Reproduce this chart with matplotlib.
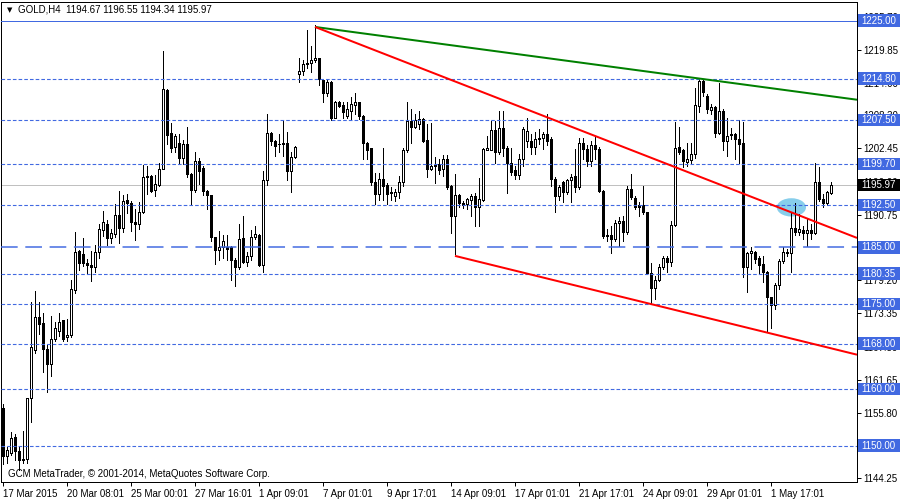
import matplotlib
matplotlib.use('Agg')
import matplotlib.pyplot as plt
from matplotlib.patches import Ellipse, Rectangle
from matplotlib.transforms import blended_transform_factory
import numpy as np

plt.rcParams['font.family'] = ['Liberation Sans', 'DejaVu Sans']
plt.rcParams['lines.scale_dashes'] = False

# ---------------- data ----------------
symbol = "GOLD,H4"
last_ohlc = [1194.67, 1196.55, 1194.34, 1195.97]

opens = [
    1156.7, 1148.1, 1148.8, 1151.5, 1149.1, 1147.7, 1147.7, 1158.5, 1166.9, 1172.8,
    1171.6, 1167.1, 1164.4, 1168.9, 1170.2, 1172.1, 1169.2, 1169.5, 1177.5, 1184.4,
    1183.9, 1182.3, 1181.95, 1181.5, 1184.1, 1188.1, 1189.2, 1186.7, 1187.4, 1190.8,
    1188.5, 1193.3, 1192.8, 1189.5, 1189.2, 1191.2, 1197.4, 1197.6, 1195.1, 1196.0,
    1198.9, 1212.8, 1205.1, 1202.7, 1203.5, 1200.7, 1203.2, 1197.9, 1195.2, 1200.3,
    1199.0, 1194.9, 1194.2, 1186.8, 1184.6, 1185.0, 1185.1, 1185.0, 1182.8, 1181.5,
    1186.6, 1182.5, 1183.4, 1186.9, 1187.2, 1181.9, 1196.9, 1205.1, 1203.7, 1203.2,
    1203.2, 1203.5, 1198.4, 1200.9, 1215.6, 1216.2, 1217.3, 1217.5, 1218.0, 1218.4,
    1214.5, 1212.2, 1214.1, 1207.9, 1210.6, 1210.1, 1208.2, 1209.1, 1210.2, 1210.6,
    1208.1, 1203.4, 1202.5, 1196.5, 1194.4, 1197.1, 1196.0, 1194.7, 1194.0, 1194.7,
    1196.6, 1202.2, 1207.3, 1206.2, 1206.8, 1207.6, 1203.9, 1198.9, 1199.5, 1199.7,
    1198.9, 1200.6, 1195.8, 1190.6, 1194.2, 1192.9, 1192.6, 1193.4, 1194.1, 1192.2,
    1193.4, 1202.2, 1202.2, 1205.7, 1201.8, 1206.0, 1202.6, 1199.9, 1198.7, 1197.7,
    1200.6, 1203.7, 1203.7, 1202.7, 1204.1, 1204.3, 1205.0, 1204.1, 1197.1, 1194.0,
    1196.5, 1194.7, 1196.9, 1197.6, 1195.6, 1203.4, 1202.3, 1200.3, 1203.1, 1202.4,
    1194.9, 1187.1, 1187.2, 1186.5, 1189.3, 1189.6, 1187.7, 1195.3, 1193.7, 1192.5,
    1192.4, 1191.2, 1180.5, 1177.8, 1179.3, 1181.5, 1183.1, 1182.5, 1189.0, 1202.7,
    1202.1, 1200.1, 1200.5, 1201.4, 1210.0, 1214.4, 1211.8, 1209.3, 1209.7, 1205.2,
    1209.1, 1203.8, 1204.8, 1205.0, 1204.2, 1203.4, 1181.5, 1184.0, 1184.1, 1183.1,
    1182.1, 1180.6, 1176.2, 1174.8, 1178.3, 1182.6, 1184.0, 1184.0, 1188.5, 1187.8,
    1188.1, 1187.6, 1188.1, 1187.5, 1196.5, 1193.5, 1192.8, 1194.67,
]
highs = [
    1157.4, 1149.7, 1152.4, 1152.0, 1150.0, 1152.6, 1158.5, 1175.4, 1177.3, 1175.4,
    1173.4, 1167.7, 1172.9, 1171.8, 1173.5, 1172.1, 1172.4, 1179.2, 1187.8, 1184.5,
    1186.7, 1183.0, 1184.4, 1185.5, 1189.1, 1191.4, 1189.9, 1188.2, 1192.6, 1194.9,
    1194.3, 1194.5, 1193.2, 1191.7, 1193.0, 1199.5, 1199.4, 1197.7, 1197.7, 1199.9,
    1219.6, 1212.9, 1206.9, 1205.0, 1205.0, 1204.0, 1206.2, 1198.1, 1201.9, 1200.7,
    1199.3, 1195.1, 1194.2, 1186.9, 1187.9, 1187.1, 1187.1, 1185.3, 1183.1, 1189.1,
    1190.6, 1184.2, 1188.1, 1188.8, 1187.3, 1198.4, 1208.5, 1205.3, 1204.0, 1205.0,
    1207.4, 1205.3, 1201.8, 1202.9, 1218.5, 1218.1, 1223.4, 1220.5, 1224.2, 1218.5,
    1214.8, 1214.6, 1214.4, 1210.9, 1210.9, 1210.7, 1210.7, 1211.6, 1212.2, 1210.7,
    1208.3, 1203.6, 1202.6, 1198.1, 1198.1, 1202.6, 1196.3, 1195.6, 1195.3, 1197.6,
    1202.5, 1210.7, 1209.5, 1208.5, 1209.1, 1207.8, 1206.8, 1206.9, 1200.9, 1200.6,
    1201.3, 1201.3, 1196.0, 1197.9, 1194.4, 1193.2, 1193.8, 1194.4, 1194.6, 1197.3,
    1202.6, 1204.7, 1207.3, 1207.3, 1209.0, 1209.0, 1202.9, 1202.6, 1199.4, 1201.5,
    1206.2, 1207.8, 1205.0, 1205.3, 1205.9, 1205.3, 1208.6, 1204.4, 1197.4, 1196.0,
    1196.8, 1197.1, 1198.0, 1202.4, 1204.3, 1204.3, 1203.0, 1203.8, 1204.7, 1202.7,
    1195.2, 1188.3, 1188.8, 1189.9, 1190.3, 1190.6, 1195.8, 1197.9, 1194.1, 1193.0,
    1195.9, 1191.3, 1182.3, 1180.0, 1182.1, 1183.5, 1183.5, 1189.6, 1207.1, 1206.2,
    1202.4, 1203.5, 1203.5, 1213.1, 1214.8, 1214.7, 1212.1, 1210.3, 1209.9, 1214.0,
    1209.4, 1207.8, 1206.0, 1205.2, 1207.4, 1207.1, 1184.2, 1185.0, 1184.4, 1183.5,
    1183.5, 1180.9, 1176.3, 1178.7, 1182.9, 1185.0, 1184.8, 1191.2, 1192.8, 1190.9,
    1188.8, 1190.0, 1189.1, 1199.9, 1199.1, 1194.4, 1195.0, 1196.55,
]
lows = [
    1146.7, 1147.0, 1148.3, 1147.5, 1145.8, 1147.0, 1147.0, 1154.2, 1166.4, 1169.7,
    1163.0, 1159.4, 1162.3, 1168.5, 1169.4, 1168.5, 1168.5, 1169.2, 1177.0, 1181.0,
    1181.7, 1180.5, 1179.1, 1180.7, 1183.2, 1187.0, 1185.5, 1185.7, 1186.9, 1185.8,
    1187.7, 1191.1, 1187.9, 1186.3, 1188.2, 1191.0, 1194.4, 1194.8, 1194.0, 1195.8,
    1198.8, 1203.2, 1201.8, 1201.8, 1199.9, 1199.7, 1197.4, 1192.4, 1194.7, 1196.1,
    1194.2, 1191.8, 1186.2, 1182.1, 1182.8, 1183.1, 1182.7, 1179.3, 1178.2, 1181.2,
    1182.2, 1181.8, 1182.8, 1186.5, 1181.7, 1180.7, 1196.0, 1203.1, 1201.1, 1201.9,
    1201.1, 1196.9, 1194.8, 1200.7, 1214.1, 1215.4, 1216.6, 1216.0, 1217.8, 1213.7,
    1210.6, 1211.7, 1207.4, 1207.8, 1209.7, 1207.9, 1207.8, 1207.5, 1208.5, 1207.6,
    1200.6, 1200.6, 1196.0, 1192.6, 1193.4, 1193.4, 1192.6, 1193.4, 1193.1, 1193.8,
    1195.9, 1201.8, 1203.5, 1206.0, 1205.9, 1203.6, 1197.5, 1198.7, 1196.3, 1197.9,
    1197.6, 1195.3, 1187.5, 1183.8, 1192.1, 1191.9, 1191.8, 1190.5, 1188.8, 1188.8,
    1193.2, 1202.1, 1202.1, 1199.9, 1201.5, 1201.1, 1194.6, 1197.8, 1197.1, 1197.0,
    1199.4, 1202.7, 1201.5, 1201.5, 1203.3, 1202.4, 1203.0, 1195.9, 1191.2, 1193.3,
    1193.0, 1194.4, 1193.0, 1194.7, 1195.3, 1200.6, 1199.4, 1199.4, 1200.6, 1194.8,
    1186.6, 1186.2, 1184.0, 1186.2, 1185.3, 1186.2, 1187.4, 1193.6, 1191.8, 1190.5,
    1190.9, 1180.3, 1175.0, 1175.9, 1179.0, 1181.2, 1180.6, 1181.8, 1188.8, 1201.5,
    1199.1, 1199.3, 1199.9, 1200.7, 1208.9, 1211.8, 1208.8, 1208.5, 1204.4, 1205.0,
    1202.2, 1201.2, 1204.1, 1200.6, 1199.9, 1179.7, 1177.1, 1181.2, 1182.2, 1180.3,
    1178.9, 1170.0, 1170.7, 1174.1, 1177.6, 1182.2, 1183.5, 1180.6, 1187.1, 1187.1,
    1186.5, 1185.3, 1186.5, 1187.4, 1193.2, 1192.2, 1192.4, 1194.34,
]
closes = [
    1148.2, 1149.3, 1151.4, 1149.1, 1147.5, 1147.5, 1158.5, 1167.5, 1172.8, 1171.4,
    1167.0, 1164.4, 1168.9, 1170.7, 1171.8, 1168.9, 1169.6, 1177.6, 1184.2, 1182.3,
    1182.3, 1181.9, 1181.5, 1184.1, 1188.2, 1189.4, 1186.7, 1187.5, 1190.8, 1188.5,
    1193.2, 1192.9, 1189.4, 1189.2, 1191.2, 1197.5, 1197.6, 1194.9, 1196.1, 1198.9,
    1212.9, 1204.9, 1202.6, 1204.6, 1200.7, 1203.2, 1197.9, 1195.2, 1200.3, 1198.5,
    1195.0, 1194.3, 1186.8, 1184.6, 1185.1, 1186.1, 1184.8, 1182.7, 1181.5, 1186.5,
    1182.5, 1183.4, 1186.9, 1187.3, 1181.9, 1196.9, 1205.1, 1203.8, 1202.9, 1203.3,
    1203.5, 1198.4, 1200.9, 1202.8, 1216.2, 1217.4, 1217.5, 1218.1, 1218.4, 1214.8,
    1212.2, 1214.1, 1207.9, 1210.6, 1210.0, 1208.9, 1209.4, 1210.3, 1210.6, 1208.1,
    1203.4, 1202.2, 1196.5, 1194.4, 1197.1, 1195.8, 1194.4, 1194.6, 1194.7, 1196.6,
    1202.2, 1207.3, 1206.2, 1207.5, 1207.6, 1203.8, 1198.9, 1199.3, 1199.3, 1198.7,
    1200.6, 1195.6, 1190.6, 1194.2, 1192.9, 1192.5, 1193.5, 1194.1, 1192.2, 1193.5,
    1202.3, 1202.5, 1205.7, 1201.8, 1206.0, 1202.6, 1199.9, 1198.3, 1197.7, 1200.6,
    1205.9, 1205.6, 1202.7, 1204.1, 1204.3, 1205.0, 1203.8, 1197.1, 1194.0, 1195.6,
    1194.7, 1196.9, 1197.5, 1195.6, 1203.4, 1202.4, 1200.3, 1203.1, 1202.3, 1195.0,
    1187.0, 1187.0, 1186.5, 1189.3, 1189.6, 1187.8, 1195.3, 1193.9, 1192.1, 1192.1,
    1191.2, 1180.5, 1177.8, 1179.3, 1181.5, 1183.1, 1182.4, 1189.0, 1202.5, 1201.9,
    1200.2, 1200.6, 1201.5, 1210.1, 1214.4, 1212.4, 1209.4, 1209.7, 1205.2, 1209.1,
    1203.8, 1204.6, 1205.0, 1204.1, 1203.2, 1181.5, 1184.0, 1184.3, 1182.9, 1181.9,
    1180.6, 1176.2, 1174.8, 1178.3, 1182.6, 1184.1, 1184.2, 1188.5, 1187.8, 1188.2,
    1187.5, 1188.1, 1187.5, 1196.5, 1193.5, 1192.8, 1194.7, 1195.97,
]

x_tick_bars = [0, 16, 32, 48, 64, 80, 96, 112, 128, 144, 160, 176, 192]
x_tick_labels = ["17 Mar 2015", "20 Mar 08:01", "25 Mar 00:01", "27 Mar 16:01",
                 "1 Apr 09:01", "7 Apr 01:01", "9 Apr 17:01", "14 Apr 09:01",
                 "17 Apr 01:01", "21 Apr 17:01", "24 Apr 09:01", "29 Apr 01:01",
                 "1 May 17:01"]
y_tick_values = [1144.25, 1150.10, 1155.80, 1161.65, 1167.50, 1173.35, 1179.20,
                 1185.05, 1190.75, 1196.60, 1202.45, 1208.30, 1214.00, 1219.85, 1225.70]

solid_levels = [1225.00]
long_dash_levels = [1185.00]
dash_levels = [1214.80, 1207.50, 1199.70, 1192.50, 1180.35, 1175.00, 1168.00, 1160.00, 1150.00]
current_price = 1195.97

# trend lines: two anchor points (bar index, price), extended to the right edge
green_anchor = [(78, 1223.9), (174, 1214.8)]
red_upper_anchor = [(78, 1223.9), (185, 1194.5)]
red_lower_anchor = [(113, 1183.5), (162, 1175.0)]
ellipse_center = (197.1, 1192.06)
ellipse_size = (7.3, 3.23)

watermark = "GCM MetaTrader, \u00a9 2001-2014, MetaQuotes Software Corp."

# ---------------- figure ----------------
W, H = 900, 500
fig = plt.figure(figsize=(9, 5), dpi=100)
fig.patch.set_facecolor('white')
ax_l, ax_r, ax_t, ax_b = 1, 857, 2, 482
ax = fig.add_axes([ax_l / W, 1 - ax_b / H, (ax_r - ax_l) / W, (ax_b - ax_t) / H])
XMIN, XMAX = -0.5, 213.5
ax.set_xlim(XMIN, XMAX)
ax.set_ylim(1143.6, 1228.3)

ROYAL = '#4169E1'
px = 0.72  # one pixel in points
FS = 7

o = np.array(opens); h = np.array(highs); l = np.array(lows); c = np.array(closes)
x = np.arange(len(o))

# ellipse (background object)
ax.add_patch(Ellipse(ellipse_center, ellipse_size[0], ellipse_size[1],
                     facecolor='#87CEEB', edgecolor='none', zorder=1))

# candles
ax.vlines(x, l, h, color='black', linewidth=px, zorder=3, antialiased=False)
up = c >= o
bottom = np.minimum(o, c)
height = np.maximum(np.abs(c - o), 0.06)
ax.bar(x[up], height[up], bottom=bottom[up], width=0.5, facecolor='white',
       edgecolor='black', linewidth=px, zorder=4, antialiased=False)
ax.bar(x[~up], height[~up], bottom=bottom[~up], width=0.5, facecolor='black',
       edgecolor='black', linewidth=px, zorder=4, antialiased=False)

# horizontal levels
for lv in solid_levels:
    ax.axhline(lv, color=ROYAL, linewidth=px, zorder=5)
for lv in long_dash_levels:
    ax.axhline(lv, color=ROYAL, linewidth=px * 1.5, linestyle=(0, (12, 5.5)), zorder=5)
for lv in dash_levels:
    ax.axhline(lv, color=ROYAL, linewidth=px * 1.1, linestyle=(0, (2.6, 1.5)), zorder=5)
ax.axhline(current_price, color='#C0C0C0', linewidth=px, zorder=2)

# trend lines
def ray(anchor, color):
    (x0, y0), (x1, y1) = anchor
    k = (y1 - y0) / (x1 - x0)
    ax.plot([x0, XMAX], [y0, y0 + k * (XMAX - x0)], color=color,
            linewidth=2.0 * px, zorder=6, solid_capstyle='butt')

ray(green_anchor, '#008000')
ray(red_upper_anchor, '#FF0000')
ray(red_lower_anchor, '#FF0000')

# axes styling
for s in ax.spines.values():
    s.set_color('black'); s.set_linewidth(px)
ax.yaxis.tick_right()
ax.set_yticks(y_tick_values)
ax.set_yticklabels([f"{v:.2f}" for v in y_tick_values])
ax.set_xticks(x_tick_bars)
ax.set_xticklabels(x_tick_labels)
ax.tick_params(axis='y', direction='out', length=3, width=px, pad=1.5,
               labelsize=FS, colors='black')
ax.tick_params(axis='x', direction='out', length=3, width=px, pad=2,
               labelsize=FS, colors='black')
for t in ax.get_xticklabels():
    t.set_horizontalalignment('left')

# price boxes on right axis
trans = blended_transform_factory(ax.transAxes, ax.transData)
x0_box = (858 - ax_l) / (ax_r - ax_l)
x1_box = (W - ax_l) / (ax_r - ax_l)
hbox = 12.5 / 5.671

def price_box(lv, fc):
    ax.add_patch(Rectangle((x0_box, lv - hbox / 2), x1_box - x0_box, hbox,
                           transform=trans, facecolor=fc, edgecolor='none',
                           clip_on=False, zorder=20))
    ax.text((861 - ax_l) / (ax_r - ax_l), lv, f"{lv:.2f}", transform=trans,
            color='white', fontsize=FS, va='center', ha='left',
            clip_on=False, zorder=21)

for lv in solid_levels + long_dash_levels + dash_levels:
    price_box(lv, ROYAL)
price_box(current_price, 'black')

# header & watermark
fig.text(7 / W, 1 - 10 / H, "\u25bc", fontsize=5, va='center', ha='left',
         family=['DejaVu Sans'])
fig.text(18 / W, 1 - 10 / H,
         f"{symbol}  " + " ".join(f"{v:.2f}" for v in last_ohlc),
         fontsize=FS, va='center', ha='left')
fig.text(8 / W, 1 - 474 / H, watermark, fontsize=FS, va='center', ha='left')

fig.savefig('out.png', dpi=100, facecolor='white')
